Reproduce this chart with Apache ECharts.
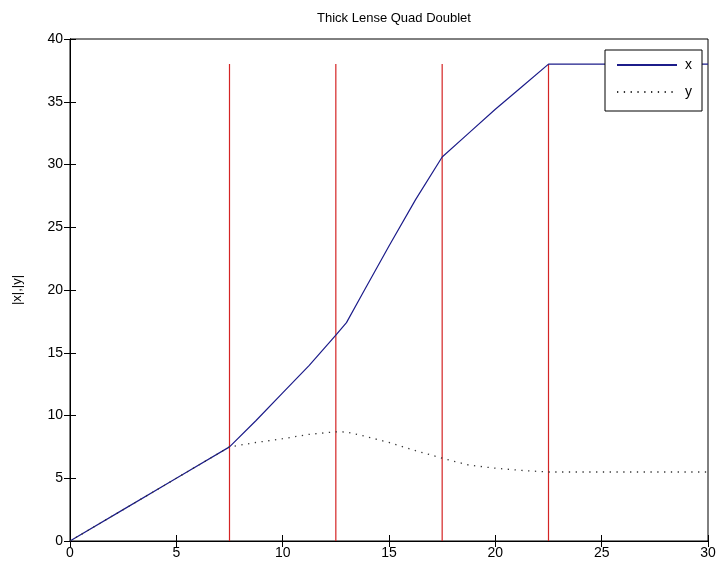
<!DOCTYPE html>
<html>
<head>
<meta charset="utf-8">
<script src="https://cdn.jsdelivr.net/npm/echarts@6/dist/echarts.min.js"></script>
<style>
  html, body { margin: 0; padding: 0; background: #fff; }
  #chart { width: 719px; height: 570px; }
</style>
</head>
<body>
<div id="chart"></div>
<script>
// Beam position along the lattice and the envelope sizes in each plane
const zPos      = [0, 2.5, 5, 7.5, 8.75, 10, 11.25, 12.5, 13, 13.75, 15, 16.25, 17.5, 18.75, 20, 21.25, 22.5, 30];
const xEnvelope = [0, 2.5, 5, 7.5, 9.6, 11.8, 14.0, 16.4, 17.4, 19.7, 23.5, 27.2, 30.6, 32.5, 34.4, 36.2, 38.0, 38.0];
const yEnvelope = [0, 2.5, 5, 7.5, 7.85, 8.15, 8.5, 8.7, 8.68, 8.4, 7.85, 7.2, 6.6, 6.05, 5.8, 5.62, 5.5, 5.5];

// Quadrupole edges, drawn as vertical markers
const lensEdges = [7.5, 12.5, 17.5, 22.5];
const lensHeight = 38;

const xRange = [0, 30], xStep = 5;
const yRange = [0, 40], yStep = 5;

const font = 'Liberation Sans';
const pairs = (xs, ys) => xs.map((v, i) => [v, ys[i]]);

const edgeSeries = lensEdges.map((z, i) => ({
  name: 'edge' + i,
  type: 'line',
  data: [[z, 0], [z, lensHeight]],
  symbol: 'none',
  silent: true,
  lineStyle: { color: '#d42424', width: 1.2 },
  z: 1
}));

const chart = echarts.init(document.getElementById('chart'), null, { renderer: 'canvas' });
chart.setOption({
  animation: false,
  backgroundColor: '#ffffff',
  title: {
    text: 'Thick Lense Quad Doublet',
    left: 389, top: 7, textAlign: 'center',
    textStyle: { fontFamily: font, fontSize: 13, fontWeight: 'normal', color: '#000' }
  },
  grid: { left: 70, right: 11, top: 39, bottom: 29, show: true, borderColor: '#000', borderWidth: 1 },
  legend: {
    data: ['x', 'y'],
    orient: 'vertical',
    left: 605, top: 50,
    padding: [8, 10, 12, 11],
    itemWidth: 60, itemHeight: 14, itemGap: 13,
    itemStyle: { opacity: 0 },
    borderColor: '#000', borderWidth: 1, backgroundColor: '#fff',
    textStyle: { fontFamily: font, fontSize: 14, color: '#000', padding: [0, 0, 0, 3] },
    z: 10
  },
  xAxis: [{
    type: 'value', min: xRange[0], max: xRange[1], interval: xStep,
    axisLine: { show: true, lineStyle: { color: '#000' } },
    axisTick: { show: true, inside: true, length: 6, lineStyle: { color: '#000' } },
    axisLabel: { fontFamily: font, fontSize: 14, color: '#000', margin: 5 },
    splitLine: { show: false }
  }, {
    type: 'value', position: 'top', min: xRange[0], max: xRange[1], interval: xStep,
    axisLine: { show: true, lineStyle: { color: '#000' } },
    axisTick: { show: true, inside: true, length: 6, lineStyle: { color: '#000' } },
    axisLabel: { show: false },
    splitLine: { show: false }
  }],
  yAxis: [{
    type: 'value', min: yRange[0], max: yRange[1], interval: yStep,
    name: '|x|,|y|', nameLocation: 'middle', nameGap: 46, nameRotate: 90,
    nameTextStyle: { fontFamily: font, fontSize: 13, color: '#000' },
    axisLine: { show: true, lineStyle: { color: '#000' } },
    axisTick: { show: true, inside: true, length: 6, lineStyle: { color: '#000' } },
    axisLabel: { fontFamily: font, fontSize: 14, color: '#000', margin: 7 },
    splitLine: { show: false }
  }, {
    type: 'value', position: 'right', min: yRange[0], max: yRange[1], interval: yStep,
    axisLine: { show: true, lineStyle: { color: '#000' } },
    axisTick: { show: true, inside: true, length: 6, lineStyle: { color: '#000' } },
    axisLabel: { show: false },
    splitLine: { show: false }
  }],
  series: [
    ...edgeSeries,
    {
      name: 'x', type: 'line', data: pairs(zPos, xEnvelope),
      symbol: 'none', smooth: false,
      lineStyle: { color: '#1c1c8a', width: 1.2 },
      itemStyle: { color: '#1c1c8a' },
      z: 3
    },
    {
      name: 'y', type: 'line', data: pairs(zPos, yEnvelope),
      symbol: 'none', smooth: false,
      lineStyle: { color: '#333', width: 1.3, type: [1.3, 5.5] },
      itemStyle: { color: '#333' },
      z: 4
    }
  ]
});
</script>
</body>
</html>
